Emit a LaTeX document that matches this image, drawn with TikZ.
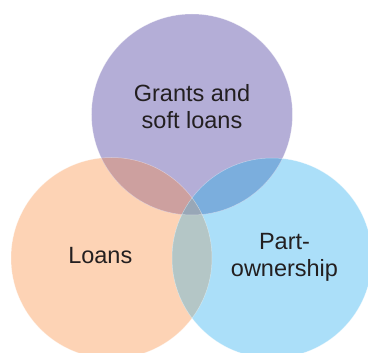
\documentclass[tikz,border=0pt]{standalone}
\usepackage{fontspec}
\setmainfont{Liberation Sans}
\begin{document}
\begin{tikzpicture}[x=1pt,y=-1pt,
  label text/.style={inner sep=0pt,align=center,text=textgrey,
    font=\fontsize{23.5}{26.5}\selectfont},
  rim/.style={draw=white,draw opacity=0.4,line width=0.5pt}]
\definecolor{textgrey}{HTML}{231F20}
\definecolor{cpurple}{HTML}{B4AED7}
\definecolor{corange}{HTML}{FDD3B5}
\definecolor{cblue}{HTML}{ABDFF9}
\definecolor{cpo}{HTML}{CDA09F}
\definecolor{cpb}{HTML}{7BAEDD}
\definecolor{cob}{HTML}{B4C6C6}
\definecolor{call}{HTML}{98A7B7}
% canvas
\fill[white] (0,0) rectangle (368,353);
\useasboundingbox (0,0) rectangle (368,353);
\clip (0,0) rectangle (368,353);
% circle centres
\coordinate (P) at (192,114.5);
\coordinate (O) at (111.5,258);
\coordinate (B) at (272,258);
\def\rP{100.5}\def\rO{100.5}\def\rB{100}
% single sets
\fill[corange] (O) circle[radius=\rO];
\fill[cblue] (B) circle[radius=\rB];
\fill[cpurple] (P) circle[radius=\rP];
% pairwise overlaps
\begin{scope}
  \clip (P) circle[radius=\rP];
  \fill[cpo] (O) circle[radius=\rO];
  \fill[cpb] (B) circle[radius=\rB];
\end{scope}
\begin{scope}
  \clip (O) circle[radius=\rO];
  \fill[cob] (B) circle[radius=\rB];
  \clip (B) circle[radius=\rB];
  \fill[call] (P) circle[radius=\rP];
\end{scope}
% faint rims
\draw[rim] (O) circle[radius=\rO];
\draw[rim] (B) circle[radius=\rB];
\draw[rim] (P) circle[radius=\rP];
% labels
\node[label text] (grants) at (192,106.5) {Grants and\\soft loans};
\node[label text,anchor=base] (loans) at (100.3,263.3) {Loans};
\node[label text] (part) at (284.5,257.5) {Part-\\ownership};
\end{tikzpicture}
\end{document}
